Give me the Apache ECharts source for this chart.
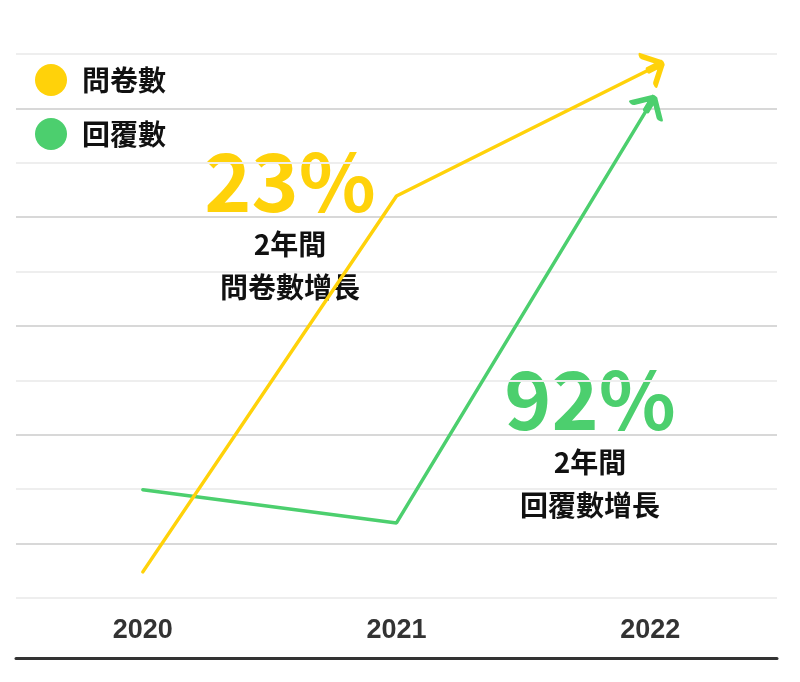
<!DOCTYPE html>
<html>
<head>
<meta charset="utf-8">
<script src="https://cdn.jsdelivr.net/npm/echarts@6/dist/echarts.min.js"></script>
<style>
  html, body { margin: 0; padding: 0; background: #fff; }
  #chart { width: 800px; height: 682px; }
</style>
</head>
<body>
<div id="chart"></div>
<script>
const years = ['2020', '2021', '2022'];
const surveyCount = [0.48, 7.39, 9.72];
const replyCount = [1.99, 1.38, 9.08];
const seriesNames = ['問卷數', '回覆數'];
const surveyNote = ['23%', '2年間', '問卷數增長'];
const replyNote = ['92%', '2年間', '回覆數增長'];

const YELLOW = '#FFD20A';
const GREEN = '#4CCF6E';
const CJK = '"Noto Sans CJK TC", "Noto Sans", sans-serif';
// open chevron with a short shaft, pointing right
const ARROW = 'path://M0,0 L16,16 L0,32 M16,16 L0,16';

const chart = echarts.init(document.getElementById('chart'));

function withArrow(values, color, rotate, offset) {
    return values.map((v, i) => {
        if (i < values.length - 1)
            return v;
        return {
            value: v,
            symbol: ARROW,
            symbolSize: [16, 32],
            symbolRotate: rotate,
            symbolOffset: offset,
            itemStyle: { color: 'none', borderColor: color, borderWidth: 5, borderCap: 'round', borderJoin: 'round' },
        };
    });
}

function textEl(text, x, y, color, size) {
    return {
        type: 'text',
        style: {
            text: text, x: x, y: y, align: 'center', verticalAlign: 'middle',
            fill: color, fontSize: size, fontWeight: 'bold', fontFamily: CJK,
        },
    };
}

function note(lines, color, cx, y0) {
    return [
        textEl(lines[0], cx, y0, color, 80),
        textEl(lines[1], cx, y0 + 62, '#111', 28),
        textEl(lines[2], cx, y0 + 105, '#111', 28),
    ];
}

chart.setOption({
    animation: false,
    grid: { left: 16, right: 23, top: 54, bottom: 84 },
    legend: {
        orient: 'vertical',
        left: 35,
        top: 64,
        padding: 0,
        itemWidth: 32,
        itemHeight: 32,
        itemGap: 22,
        icon: 'circle',
        data: seriesNames,
        textStyle: { fontSize: 28, fontWeight: 'bold', color: '#111', fontFamily: CJK, padding: [0, 0, 0, 10] },
    },
    xAxis: {
        type: 'category',
        data: years,
        offset: 60,
        axisLine: { onZero: false, lineStyle: { color: '#333', width: 3 } },
        axisTick: { show: false },
        splitLine: { show: false },
        axisLabel: {
            inside: true,
            margin: 14,
            color: '#333',
            fontSize: 27,
            fontWeight: 'bold',
            fontFamily: '"Liberation Sans Narrow", "Liberation Sans", Arial, sans-serif',
        },
    },
    yAxis: {
        type: 'value',
        min: 0,
        max: 10,
        interval: 1,
        axisLine: { show: false },
        axisTick: { show: false },
        axisLabel: { show: false },
        splitLine: { lineStyle: { color: ['#eeeeee', '#d8d8d8'], width: 2 } },
    },
    series: [
        {
            name: seriesNames[0],
            type: 'line',
            color: YELLOW,
            symbol: 'none',
            showSymbol: true,
            lineStyle: { width: 3.5, color: YELLOW, cap: 'round' },
            data: withArrow(surveyCount, YELLOW, 27, [5, -2.5]),
            z: 3,
        },
        {
            name: seriesNames[1],
            type: 'line',
            color: GREEN,
            symbol: 'none',
            showSymbol: true,
            lineStyle: { width: 3.5, color: GREEN, cap: 'round' },
            data: withArrow(replyCount, GREEN, 59, [0, 0]),
            z: 2,
        },
    ],
    graphic: [
        ...note(surveyNote, YELLOW, 290, 182),
        ...note(replyNote, GREEN, 590, 400),
    ],
});
</script>
</body>
</html>
